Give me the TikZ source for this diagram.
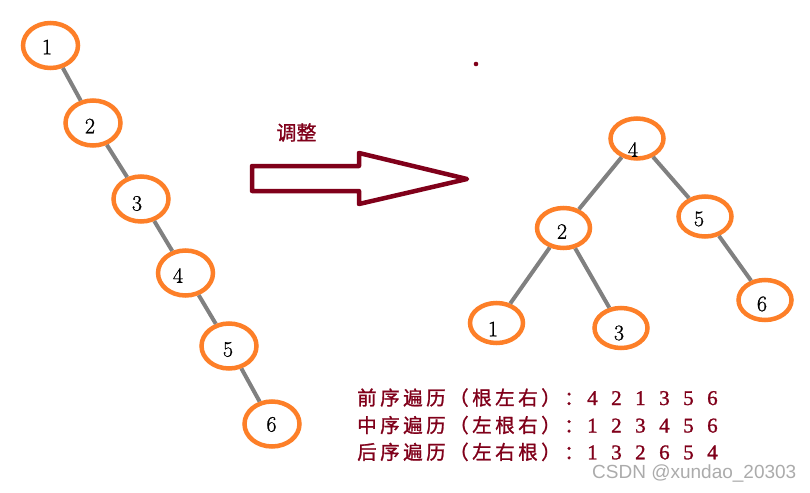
\documentclass[tikz,border=0pt]{standalone}
\usepackage{fontspec}
\newfontfamily\cjk{Noto Sans CJK SC}[FakeBold=1.2]
\newfontfamily\digf{Liberation Serif}[FakeBold=1.2]
\newfontfamily\numf{Latin Modern Roman}[FakeBold=1]
\newfontfamily\wmf{Liberation Sans}
\usetikzlibrary{shapes.geometric}
\definecolor{orangec}{RGB}{253,127,40}
\definecolor{grayc}{RGB}{128,128,128}
\definecolor{redc}{RGB}{128,0,26}
\newcommand\pitch{23pt}
\def\spread#1{\ifx#1\relax\else\makebox[\pitch][l]{#1}\expandafter\spread\fi}
\tikzset{
  ell/.style={ellipse, draw=orangec, fill=white, line width=4.5pt, minimum width=55pt, minimum height=45pt, inner sep=0pt},
  rell/.style={ell, minimum width=53pt, minimum height=40pt},
  num/.style={font=\numf\fontsize{22}{22}\selectfont, inner sep=0pt},
  edgeln/.style={draw=grayc, line width=4pt},
  trav/.style={anchor=base west, inner sep=0pt, text=redc},
}
\begin{document}
\begin{tikzpicture}[x=1pt,y=-1pt]
\useasboundingbox (0,0) rectangle (810,492);
% left tree
\node[ell] (e1) at (50.5,45.5) {};
\node[ell] (e2) at (93,123) {};
\node[ell] (e3) at (141,199) {};
\node[ell] (e4) at (185.5,273) {};
\node[ell] (e5) at (229,346) {};
\node[ell] (e6) at (272,424) {};
\node[num] (t1) at (47,47) {1};
\node[num] (t2) at (90,126) {2};
\node[num] (t3) at (137,203.5) {3};
\node[num] (t4) at (178,275.5) {4};
\node[num] (t5) at (228,349.5) {5};
\node[num] (t6) at (271.5,424.5) {6};
\draw[edgeln] (e1) -- (e2);
\draw[edgeln] (e2) -- (e3);
\draw[edgeln] (e3) -- (e4);
\draw[edgeln] (e4) -- (e5);
\draw[edgeln] (e5) -- (e6);
% right tree
\node[rell] (r4) at (637,138.5) {};
\node[rell] (r2) at (563.5,228) {};
\node[rell] (r5) at (705,216.5) {};
\node[rell] (r1) at (496.5,323) {};
\node[rell] (r3) at (621,328) {};
\node[rell] (r6) at (765,300) {};
\node[num] (s4) at (633,149.5) {4};
\node[num] (s2) at (562,231.5) {2};
\node[num] (s5) at (699,219) {5};
\node[num] (s1) at (493,329) {1};
\node[num] (s3) at (619,333) {3};
\node[num] (s6) at (762,304) {6};
\draw[edgeln] (r4) -- (r2);
\draw[edgeln] (r4) -- (r5);
\draw[edgeln] (r2) -- (r1);
\draw[edgeln] (r2) -- (r3);
\draw[edgeln] (r5) -- (r6);
% arrow
\draw[draw=redc, fill=white, line width=4.5pt, line join=round]
  (252,166) -- (359,166) -- (359,153) -- (467,179) -- (359,204) -- (359,191) -- (252,191) -- cycle;
\node[text=redc, font=\cjk\fontsize{20}{20}\selectfont, inner sep=0pt] (adj) at (296.5,132.5) {调整};
\fill[redc] (476,64) circle (2.3);
% traversals
\node[trav] (pre) at (357,405) {\fontsize{19.5}{19.5}\cjk\spread 前序遍历（根左右）：\relax\fontsize{21}{21}\digf\renewcommand\pitch{24pt}\spread 421356\relax};
\node[trav] (in) at (357,432.5) {\fontsize{19.5}{19.5}\cjk\spread 中序遍历（左根右）：\relax\fontsize{21}{21}\digf\renewcommand\pitch{24pt}\spread 123456\relax};
\node[trav] (post) at (357,459.3) {\fontsize{19.5}{19.5}\cjk\spread 后序遍历（左右根）：\relax\fontsize{21}{21}\digf\renewcommand\pitch{24pt}\spread 132654\relax};
\node[anchor=base west, inner sep=0pt, text=black!33, font=\wmf\fontsize{19}{19}\selectfont] (wm) at (592,478) {CSDN @xundao\_20303};
\end{tikzpicture}
\end{document}
